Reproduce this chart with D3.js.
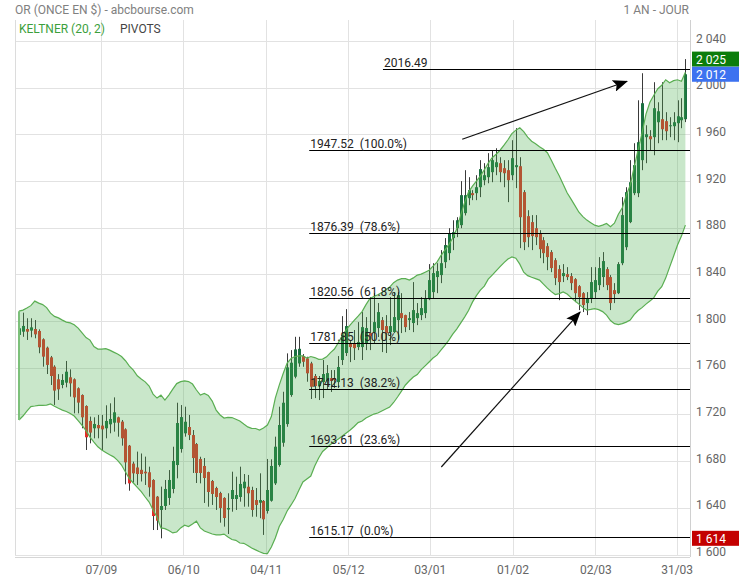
<!DOCTYPE html>
<html><head><meta charset="utf-8">
<script src="https://cdn.jsdelivr.net/npm/d3@7"></script>
<style>
html,body{margin:0;padding:0;background:#fff;}
svg{display:block;font-family:Roboto,"Noto Sans",sans-serif;}
</style></head><body>
<svg id="chart" width="739" height="580"></svg>
<script>
// ---------- DATA ----------
const open = [1788.6,1791.4,1793.7,1792.3,1793.7,1792.0,1784.9,1777.7,1769.4,1761.4,
1750.6,1745.7,1747.7,1752.3,1750.6,1742.9,1737.1,1727.7,1714.9,1708.6,
1711.4,1710.9,1708.6,1712.0,1713.4,1718.0,1714.3,1707.7,1693.7,1678.3,
1675.0,1673.0,1671.4,1670.9,1664.3,1650.0,1638.6,1642.0,1648.9,1656.6,
1677.1,1690.8,1704.3,1709.7,1702.8,1695.1,1682.3,1676.3,1671.1,1663.4,
1657.4,1653.1,1648.9,1639.0,1648.0,1648.0,1649.7,1657.2,1658.5,1655.7,
1647.1,1644.8,1646.3,1637.7,1646.5,1661.4,1677.1,1696.2,1712.2,1737.1,
1752.8,1764.2,1770.5,1768.5,1764.2,1753.4,1744.8,1748.2,1749.1,1751.6,
1751.6,1748.2,1767.1,1773.1,1781.6,1780.8,1778.2,1778.2,1781.6,1790.2,
1791.0,1794.5,1801.3,1796.2,1791.0,1791.0,1801.3,1807.3,1805.6,1801.3,
1798.8,1803.0,1805.6,1807.3,1819.3,1825.3,1838.2,1839.9,1851.0,1858.7,
1871.6,1880.1,1882.7,1893.0,1905.8,1910.1,1910.1,1915.2,1921.2,1923.8,
1928.1,1932.4,1935.8,1931.5,1929.8,1925.5,1932.4,1933.2,1911.0,1890.4,
1885.3,1880.1,1875.8,1869.8,1864.7,1859.6,1852.7,1845.0,1839.0,1840.7,
1839.0,1836.4,1830.4,1824.4,1815.9,1820.2,1825.3,1831.3,1838.2,1845.0,
1838.2,1827.0,1824.4,1850.1,1863.8,1885.3,1910.1,1910.1,1938.4,1958.1,
1958.9,1958.1,1970.9,1973.5,1971.8,1967.5,1967.5,1970.1,1972.6,1973.5];

const high = [1801.4,1807.7,1802.9,1802.9,1801.4,1793.4,1785.7,1778.6,1770.6,1762.6,
1755.0,1755.0,1766.3,1759.1,1751.4,1743.7,1737.7,1728.3,1718.6,1718.0,
1720.0,1720.0,1728.3,1730.0,1735.1,1718.6,1715.7,1708.6,1694.3,1680.0,
1688.6,1687.0,1684.3,1675.7,1665.0,1650.6,1658.6,1664.3,1672.8,1692.8,
1730.5,1728.5,1727.1,1720.0,1707.1,1696.0,1684.2,1683.1,1671.4,1664.3,
1658.5,1654.2,1649.5,1652.9,1671.4,1667.1,1675.7,1669.4,1668.6,1658.5,
1657.4,1670.0,1647.1,1682.3,1682.0,1701.4,1727.1,1739.9,1772.8,1775.6,
1787.0,1787.0,1772.2,1769.9,1765.6,1755.1,1753.4,1767.1,1762.8,1758.5,
1758.5,1770.5,1804.7,1810.7,1784.2,1792.8,1799.6,1808.2,1803.9,1821.0,
1824.4,1815.9,1803.9,1805.6,1821.0,1825.3,1825.3,1824.4,1806.0,1808.2,
1833.9,1815.9,1821.0,1827.0,1849.3,1850.1,1850.1,1861.3,1871.6,1880.1,
1886.9,1889.5,1920.4,1929.8,1923.8,1912.7,1925.5,1938.4,1935.8,1944.4,
1946.9,1948.6,1940.9,1938.4,1938.4,1955.5,1965.8,1940.9,1912.7,1895.5,
1891.3,1891.3,1878.4,1872.4,1867.3,1861.3,1854.4,1848.4,1849.3,1846.7,
1841.6,1837.3,1831.3,1825.3,1825.3,1846.7,1846.7,1855.3,1859.6,1846.7,
1839.9,1833.0,1851.0,1906.7,1915.2,1938.4,1952.9,1989.7,2012.9,1968.3,
1964.1,2005.2,1988.0,2005.2,1979.5,1975.2,1979.5,1989.7,1991.5,2025.0];

const low = [1784.3,1787.0,1784.3,1786.6,1785.7,1772.9,1761.4,1755.1,1745.7,1728.6,
1732.9,1742.9,1743.7,1735.7,1721.4,1721.4,1708.6,1690.0,1695.7,1700.0,
1700.0,1690.0,1700.0,1704.3,1705.7,1701.4,1693.7,1660.6,1655.1,1662.0,
1660.0,1663.0,1660.0,1650.0,1621.4,1621.4,1614.3,1638.6,1642.9,1652.9,
1665.7,1687.7,1701.4,1698.5,1670.3,1661.7,1661.4,1644.6,1641.4,1642.9,
1638.6,1627.7,1624.3,1618.0,1637.1,1638.6,1645.7,1641.4,1641.4,1632.8,
1632.8,1631.5,1617.2,1635.5,1645.7,1660.0,1675.7,1692.8,1709.9,1735.6,
1751.4,1761.3,1761.3,1748.5,1733.7,1734.5,1732.8,1734.5,1741.4,1739.7,
1743.1,1743.1,1762.8,1770.5,1765.3,1767.1,1775.6,1767.1,1775.6,1775.6,
1781.6,1786.8,1773.9,1773.1,1779.9,1790.2,1784.2,1790.2,1791.0,1792.8,
1791.0,1797.0,1801.3,1803.0,1818.4,1820.2,1824.4,1833.0,1845.9,1852.7,
1861.3,1872.4,1880.1,1891.0,1899.8,1904.1,1904.1,1906.7,1916.9,1918.6,
1919.5,1925.5,1919.5,1915.2,1902.4,1921.2,1914.4,1863.0,1861.3,1863.8,
1861.3,1865.6,1854.4,1850.1,1844.1,1842.4,1831.3,1818.4,1833.9,1835.6,
1827.0,1816.7,1809.9,1808.2,1805.6,1815.9,1820.2,1827.0,1829.6,1827.0,
1809.9,1815.9,1823.6,1848.4,1861.3,1884.4,1908.4,1906.7,1929.8,1935.8,
1946.9,1942.6,1952.9,1955.5,1955.5,1958.1,1955.5,1953.8,1965.8,1971.0];

const close = [1794.3,1796.3,1791.4,1795.1,1789.1,1778.0,1770.0,1762.9,1753.4,1740.9,
1742.0,1750.0,1757.1,1747.1,1735.1,1730.6,1718.0,1700.9,1704.9,1712.3,
1708.6,1707.7,1714.9,1716.6,1722.3,1713.4,1700.0,1679.4,1661.4,1670.0,
1669.4,1669.4,1670.0,1658.0,1633.4,1629.4,1642.0,1656.6,1664.3,1680.6,
1713.1,1718.2,1714.2,1702.8,1683.1,1670.3,1670.3,1666.0,1654.0,1652.3,
1649.7,1640.3,1631.7,1640.3,1655.7,1651.4,1660.9,1662.8,1652.9,1638.6,
1642.9,1647.1,1630.6,1655.7,1676.3,1692.8,1711.4,1730.5,1760.8,1764.8,
1776.2,1776.7,1765.6,1755.7,1744.2,1744.8,1749.1,1755.1,1755.9,1749.1,
1749.9,1761.1,1788.5,1796.2,1778.2,1777.3,1782.5,1795.3,1794.5,1787.6,
1799.6,1808.2,1792.8,1790.2,1796.2,1803.9,1822.7,1803.0,1795.3,1803.0,
1809.9,1807.3,1811.6,1820.2,1835.6,1841.6,1843.3,1850.1,1865.6,1875.8,
1876.7,1886.9,1908.4,1908.4,1912.7,1908.4,1915.2,1930.7,1925.5,1932.4,
1938.4,1936.6,1928.1,1927.2,1921.2,1940.1,1934.1,1889.5,1868.1,1872.4,
1873.3,1872.4,1862.1,1858.7,1855.3,1845.9,1837.3,1833.9,1841.6,1838.2,
1833.0,1824.4,1821.0,1814.2,1820.2,1833.9,1835.6,1845.9,1851.9,1831.3,
1815.9,1823.6,1849.3,1891.3,1911.0,1919.5,1934.1,1953.8,1987.2,1960.6,
1956.3,1982.9,1980.3,1964.9,1963.2,1968.3,1970.9,1976.0,1975.2,2012.0];

const keltnerUpper = [1809.0,1809.9,1811.6,1813.7,1817.6,1815.9,1814.6,1812.0,1807.3,1804.5,
1803.2,1801.3,1799.6,1798.9,1797.4,1794.5,1790.4,1786.3,1784.2,1778.6,
1776.5,1776.5,1776.9,1775.6,1773.9,1772.2,1770.1,1766.5,1761.9,1758.5,
1753.6,1750.8,1748.4,1744.8,1737.9,1734.5,1737.0,1732.8,1737.1,1742.2,
1746.9,1748.6,1749.3,1748.6,1746.5,1741.4,1737.1,1738.4,1736.7,1731.9,
1724.2,1720.0,1717.4,1718.0,1717.8,1716.4,1714.8,1712.2,1709.8,1708.6,
1708.4,1707.1,1708.8,1711.4,1718.6,1734.5,1745.6,1755.5,1764.5,1768.4,
1770.1,1770.7,1770.7,1768.8,1770.1,1769.2,1767.7,1767.9,1769.8,1773.5,
1776.5,1782.1,1788.0,1793.2,1797.2,1801.1,1804.7,1808.6,1814.6,1819.9,
1821.6,1823.0,1824.9,1827.4,1829.6,1833.4,1835.6,1836.8,1836.9,1835.6,
1837.5,1839.9,1840.7,1842.4,1844.1,1847.6,1851.0,1856.6,1861.3,1866.0,
1871.6,1879.3,1891.3,1902.0,1911.0,1916.1,1920.4,1924.7,1930.2,1935.8,
1940.5,1943.5,1946.9,1951.2,1955.9,1961.1,1964.1,1966.2,1962.8,1958.1,
1954.6,1952.5,1949.9,1947.8,1944.8,1938.4,1931.5,1925.1,1917.8,1910.5,
1905.0,1899.4,1893.8,1890.0,1887.0,1884.8,1882.7,1881.6,1882.7,1884.1,
1881.4,1884.4,1892.1,1897.6,1908.4,1916.9,1932.4,1946.9,1961.5,1977.8,
1988.0,1994.0,1999.6,2002.6,2007.3,2004.7,2006.5,2007.3,2006.0,2013.7];

const keltnerLower = [1715.7,1719.1,1723.4,1727.2,1727.7,1728.3,1728.3,1728.5,1729.4,1727.4,
1725.7,1724.2,1723.0,1721.2,1719.1,1715.2,1711.0,1706.6,1701.1,1696.8,
1692.7,1690.0,1687.9,1685.9,1684.1,1681.1,1677.1,1671.1,1665.4,1661.7,
1657.9,1654.3,1649.7,1645.4,1638.6,1632.6,1623.2,1622.6,1621.0,1618.9,
1619.7,1623.2,1625.5,1624.4,1626.6,1629.0,1623.2,1620.6,1619.3,1618.0,
1617.2,1617.2,1617.9,1615.4,1613.3,1612.6,1610.3,1610.0,1608.2,1606.0,
1604.4,1602.8,1601.4,1601.2,1606.9,1614.6,1624.4,1630.4,1637.7,1642.9,
1648.4,1655.7,1662.6,1665.1,1667.7,1676.3,1683.1,1688.7,1691.7,1694.7,
1697.3,1699.4,1702.0,1704.5,1707.1,1710.1,1713.5,1714.8,1717.4,1719.1,
1720.8,1721.7,1723.4,1725.1,1726.8,1730.7,1735.4,1740.5,1745.7,1749.3,
1752.5,1754.6,1758.9,1762.1,1765.4,1768.8,1771.3,1775.6,1779.6,1784.2,
1789.3,1793.6,1798.7,1803.9,1809.5,1816.7,1822.3,1827.0,1830.4,1836.4,
1839.9,1843.5,1847.1,1850.6,1853.6,1855.4,1854.4,1849.3,1842.4,1839.4,
1838.0,1836.9,1835.6,1832.2,1828.7,1825.7,1823.2,1824.0,1825.5,1823.6,
1820.6,1817.6,1815.0,1812.0,1809.9,1810.5,1811.2,1810.3,1808.6,1805.6,
1800.9,1798.3,1797.5,1798.3,1799.6,1801.3,1806.0,1809.5,1812.0,1815.0,
1817.6,1820.6,1826.2,1830.0,1837.3,1846.7,1856.1,1865.6,1873.3,1882.7];

// x-axis date ticks (positions in candle index units)
const tickIndex = [20.9, 41.8, 62.7, 83.6, 104.3, 125.3, 146.3, 166.9];
const tickLabels = ["07/09","06/10","04/11","05/12","03/01","01/02","02/03","31/03"];
const yTicks = [1600,1640,1680,1720,1760,1800,1840,1880,1920,1960,2000,2040];

// pivot (fibonacci) levels
const pivotValues = [2016.49, 1947.52, 1876.39, 1820.56, 1781.85, 1742.13, 1693.61, 1615.17];
const pivotPct    = ["", "100.0%", "78.6%", "61.8%", "50.0%", "38.2%", "23.6%", "0.0%"];
const pivotStart  = [92.3, 73.6, 73.6, 73.6, 73.6, 73.6, 73.6, 73.6];

// drawn arrows: [index, price] -> [index, price]
const arrowFrom = [[112.4, 1956.3], [107.1, 1675.4]];
const arrowTo   = [[154.2, 2006.0], [142.3, 1808.2]];

// ---------- CHART ----------
const svg = d3.select("#chart");
const plotL = 15, plotR = 690, plotT = 20, plotB = 556;
const x = d3.scaleLinear().domain([0, open.length - 1]).range([19, 685.4]);
const y = d3.scaleLinear().domain([1600, 2040]).range([555, 41.6]);
const loc = d3.formatLocale({decimal: ",", thousands: "\u00a0", grouping: [3], currency: ["", ""]});
const fmt = loc.format(",.0f");

// header texts
svg.append("text").attr("x", 15).attr("y", 14).attr("font-size", 12).attr("fill", "#808080")
  .text("OR (ONCE EN $) - abcbourse.com");
svg.append("text").attr("x", 689).attr("y", 14).attr("font-size", 12).attr("fill", "#808080")
  .attr("text-anchor", "end").text("1 AN - JOUR");

// grid
const grid = svg.append("g");
grid.selectAll("line.h").data(yTicks.filter(v => v > 1600)).join("line")
  .attr("x1", plotL).attr("x2", plotR).attr("y1", d => y(d)).attr("y2", d => y(d))
  .attr("stroke", "#e2e2e2").attr("stroke-width", 1).attr("shape-rendering", "crispEdges");
grid.selectAll("line.v").data(tickIndex).join("line")
  .attr("x1", d => x(d)).attr("x2", d => x(d)).attr("y1", plotT).attr("y2", plotB)
  .attr("stroke", "#e2e2e2").attr("stroke-width", 1).attr("shape-rendering", "crispEdges");
grid.append("line").attr("x1", plotL).attr("x2", plotL).attr("y1", plotT).attr("y2", plotB)
  .attr("stroke", "#dcdcdc").attr("shape-rendering", "crispEdges");
grid.append("line").attr("x1", plotL).attr("x2", plotR).attr("y1", y(1600)).attr("y2", y(1600))
  .attr("stroke", "#e2e2e2").attr("shape-rendering", "crispEdges");
grid.append("line").attr("x1", plotL).attr("x2", plotR).attr("y1", plotB + 1).attr("y2", plotB + 1)
  .attr("stroke", "#d6d6d6").attr("shape-rendering", "crispEdges");
grid.append("line").attr("x1", plotR).attr("x2", plotR).attr("y1", plotT).attr("y2", plotB + 1)
  .attr("stroke", "#d0d0d0").attr("shape-rendering", "crispEdges");

// legend
svg.append("text").attr("x", 19).attr("y", 33).attr("font-size", 12).attr("fill", "#3c9f3c")
  .text("KELTNER (20, 2)");
svg.append("text").attr("x", 120).attr("y", 33).attr("font-size", 12).attr("fill", "#444")
  .text("PIVOTS");

// candles
const idx = d3.range(open.length);
const cg = svg.append("g");
cg.selectAll("line.wick").data(idx).join("line")
  .attr("x1", i => Math.round(x(i)) + 0.5).attr("x2", i => Math.round(x(i)) + 0.5)
  .attr("y1", i => y(high[i])).attr("y2", i => y(low[i]))
  .attr("stroke", "#3a3a3a").attr("stroke-width", 1);
cg.selectAll("rect.body").data(idx).join("rect")
  .attr("x", i => Math.round(x(i)) - 1)
  .attr("width", 3)
  .attr("y", i => y(Math.max(open[i], close[i])))
  .attr("height", i => Math.max(1, Math.abs(y(open[i]) - y(close[i]))))
  .attr("fill", i => close[i] >= open[i] ? "#1a7040" : "#e02e28");

// keltner band (translucent, drawn over candles)
const area = d3.area().x((d, i) => x(i)).y0((d, i) => y(keltnerLower[i])).y1((d, i) => y(keltnerUpper[i]));
svg.append("path").datum(idx).attr("d", area)
  .attr("fill", "rgb(76,175,80)").attr("fill-opacity", 0.3);
const lineU = d3.line().x((d, i) => x(i)).y((d, i) => y(keltnerUpper[i]));
const lineL = d3.line().x((d, i) => x(i)).y((d, i) => y(keltnerLower[i]));
svg.append("path").datum(idx).attr("d", lineU).attr("fill", "none").attr("stroke", "#5aae52").attr("stroke-width", 1.2);
svg.append("path").datum(idx).attr("d", lineL).attr("fill", "none").attr("stroke", "#5aae52").attr("stroke-width", 1.2);
svg.append("line").attr("x1", x(0)).attr("x2", x(0)).attr("y1", y(keltnerUpper[0])).attr("y2", y(keltnerLower[0]))
  .attr("stroke", "#7cc07a").attr("stroke-width", 2);

// pivots
const pg = svg.append("g");
pivotValues.forEach((v, k) => {
  const yy = Math.round(y(v)) + 0.5;
  pg.append("line").attr("x1", x(pivotStart[k])).attr("x2", plotR).attr("y1", yy).attr("y2", yy)
    .attr("stroke", "#000").attr("stroke-width", 1);
  pg.append("text").attr("x", x(pivotStart[k]) + 1).attr("y", yy - 3).attr("font-size", 12)
    .attr("fill", "#222").style("white-space", "pre")
    .text(v.toFixed(2) + (pivotPct[k] ? "  (" + pivotPct[k] + ")" : ""));
});

// arrows
const defs = svg.append("defs");
defs.append("marker").attr("id", "ah").attr("markerUnits", "userSpaceOnUse")
  .attr("markerWidth", 16).attr("markerHeight", 12).attr("refX", 14).attr("refY", 6)
  .attr("orient", "auto")
  .append("path").attr("d", "M0,0 L15,6 L0,12 L3,6 Z").attr("fill", "#000");
arrowFrom.forEach((f, k) => {
  svg.append("line").attr("x1", x(f[0])).attr("y1", y(f[1]))
    .attr("x2", x(arrowTo[k][0])).attr("y2", y(arrowTo[k][1]))
    .attr("stroke", "#111").attr("stroke-width", 1.2).attr("marker-end", "url(#ah)");
});

// right axis labels
const ag = svg.append("g");
ag.selectAll("text").data(yTicks).join("text")
  .attr("x", 696).attr("y", d => y(d) + 1).attr("font-size", 12).attr("fill", "#666")
  .text(d => fmt(d));

// x axis labels
svg.append("g").selectAll("text").data(tickIndex).join("text")
  .attr("x", d => x(d)).attr("y", 574).attr("text-anchor", "middle").attr("font-size", 12).attr("fill", "#666")
  .text((d, i) => tickLabels[i]);

// price badges
const maxHigh = d3.max(high), lastClose = close[close.length - 1], minLow = d3.min(low);
const badges = [[maxHigh, "#0b7d0b"], [lastClose, "#3d72f0"], [minLow, "#c40000"]];
badges.forEach(([v, c]) => {
  const yy = y(v);
  svg.append("rect").attr("x", 692).attr("y", yy - 7.5).attr("width", 47).attr("height", 15).attr("fill", c);
  svg.append("text").attr("x", 696).attr("y", yy + 4.5).attr("font-size", 12).attr("fill", "#fff")
    .text(fmt(Math.round(v)));
});
</script>
</body></html>
